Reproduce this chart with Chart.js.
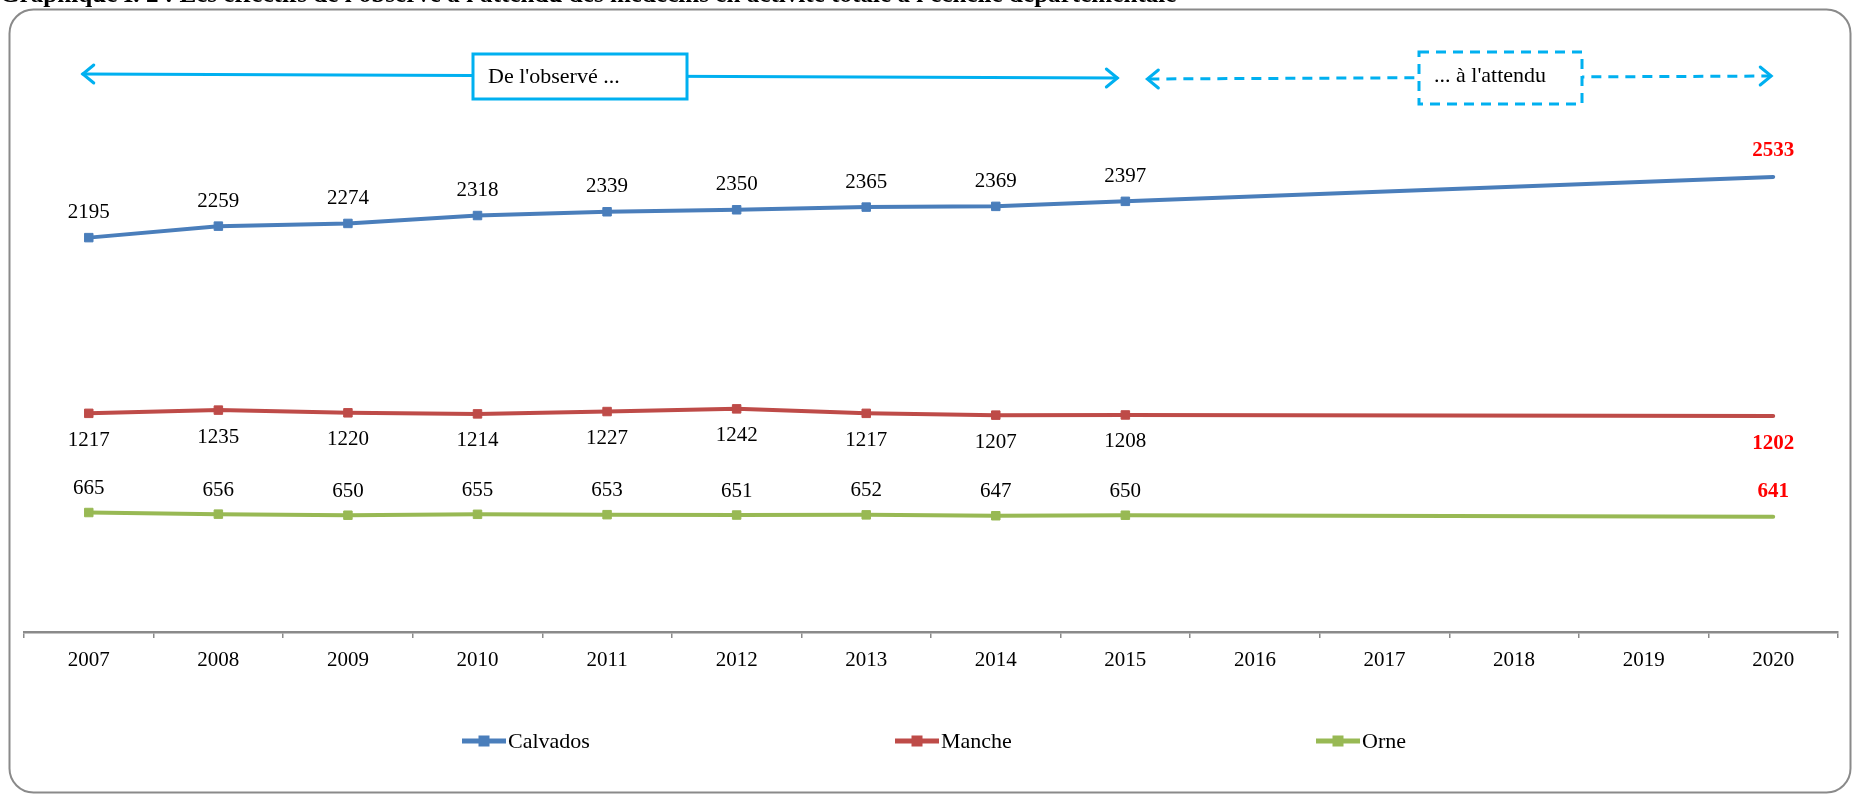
<!DOCTYPE html>
<html>
<head>
<meta charset="utf-8">
<script src="https://cdn.jsdelivr.net/npm/chart.js@4.4.1/dist/chart.umd.min.js"></script>
<style>
  html, body { margin: 0; padding: 0; background: #fff; overflow: hidden; }
  #wrap { position: relative; width: 1854px; height: 794px; }
  canvas { display: block; }
</style>
</head>
<body>
<div id="wrap"><canvas id="c" width="1854" height="794"></canvas></div>
<script>
// ---- Data ----
const years = ['2007','2008','2009','2010','2011','2012','2013','2014','2015','2016','2017','2018','2019','2020'];
const calvados = [2195, 2259, 2274, 2318, 2339, 2350, 2365, 2369, 2397, null, null, null, null, 2533];
const manche   = [1217, 1235, 1220, 1214, 1227, 1242, 1217, 1207, 1208, null, null, null, null, 1202];
const orne     = [665, 656, 650, 655, 653, 651, 652, 647, 650, null, null, null, null, 641];
const seriesNames = ['Calvados', 'Manche', 'Orne'];
const titleText = "Graphique I. 2 : Les effectifs de l'observé à l'attendu des médecins en activité totale à l'échelle départementale";
const observedText = "De l'observé ...";
const expectedText = "... à l'attendu";

const colors = ['#4A7EBB', '#BE4B48', '#98B954'];
const SERIF = '"Liberation Serif", "DejaVu Serif", serif';
const lastObserved = 8;
const projIndex = 13;

function mkDataset(label, data, color) {
  return {
    label, data,
    borderColor: color, backgroundColor: color,
    borderWidth: 4, borderCapStyle: 'round', borderJoinStyle: 'round',
    pointStyle: 'rect',
    pointRadius: ctx => ctx.dataIndex <= lastObserved ? 6 : 0,
    pointHoverRadius: ctx => ctx.dataIndex <= lastObserved ? 6 : 0,
    pointBorderWidth: 1,
    pointBorderColor: color, pointBackgroundColor: color,
    spanGaps: true, tension: 0
  };
}

// label offsets (above negative, below positive)
const labelOffsets = [-25, 27, -24];

const decorPlugin = {
  id: 'decor',
  beforeDraw(chart) {
    const ctx = chart.ctx;
    ctx.save();
    ctx.fillStyle = '#fff';
    ctx.fillRect(0, 0, chart.width, chart.height);
    // title (cut at top)
    ctx.fillStyle = '#000';
    let fs = 22;
    ctx.font = 'bold ' + fs + 'px ' + SERIF;
    const w = ctx.measureText(titleText).width;
    fs = fs * 1177 / w;
    ctx.font = 'bold ' + fs.toFixed(2) + 'px ' + SERIF;
    ctx.textBaseline = 'alphabetic';
    ctx.textAlign = 'left';
    ctx.fillText(titleText, 0, 2);
    // rounded border
    ctx.strokeStyle = '#8a8a8a';
    ctx.lineWidth = 2;
    ctx.beginPath();
    ctx.roundRect(9.5, 9.5, 1841, 783, 24);
    ctx.fillStyle = '#fff';
    ctx.fill();
    ctx.stroke();
    ctx.restore();
  },
  afterDraw(chart) {
    const ctx = chart.ctx;
    const xs = chart.scales.x;
    ctx.save();
    // ---- arrows ----
    const blue = '#00B0F0';
    ctx.strokeStyle = blue;
    ctx.lineWidth = 3;
    ctx.lineCap = 'round';
    function chevron(x, y, dir) {
      ctx.save();
      ctx.setLineDash([]);
      ctx.beginPath();
      ctx.moveTo(x - dir * 11, y - 9);
      ctx.lineTo(x, y);
      ctx.lineTo(x - dir * 11, y + 9);
      ctx.stroke();
      ctx.restore();
    }
    const xStart = xs.getPixelForValue(0) - 6;
    const xMid = xs.getPixelForValue(lastObserved) - 8;
    const xMid2 = xs.getPixelForValue(lastObserved) + 22;
    const xEnd = xs.getPixelForValue(projIndex) - 2;
    // solid arrow
    ctx.beginPath();
    ctx.moveTo(xStart, 74);
    ctx.lineTo(xMid, 78);
    ctx.stroke();
    chevron(xStart, 74, -1);
    chevron(xMid, 78, 1);
    // dashed arrow
    ctx.lineCap = 'butt';
    ctx.setLineDash([10, 7]);
    ctx.beginPath();
    ctx.moveTo(xMid2 + 2, 79);
    ctx.lineTo(xEnd, 76);
    ctx.stroke();
    ctx.lineCap = 'round';
    chevron(xMid2, 79, -1);
    chevron(xEnd, 76, 1);
    // solid box
    ctx.setLineDash([]);
    ctx.fillStyle = '#fff';
    ctx.fillRect(473, 54, 214, 45);
    ctx.strokeRect(473, 54, 214, 45);
    // dashed box
    ctx.fillRect(1419, 52, 163, 52);
    ctx.setLineDash([10, 7]);
    ctx.lineCap = 'butt';
    ctx.strokeRect(1419, 52, 163, 52);
    ctx.setLineDash([]);
    ctx.fillStyle = '#000';
    ctx.font = '22px ' + SERIF;
    ctx.textBaseline = 'middle';
    ctx.textAlign = 'left';
    ctx.fillText(observedText, 488, 77);
    ctx.fillText(expectedText, 1434, 76);

    // ---- data labels ----
    chart.data.datasets.forEach((ds, di) => {
      const meta = chart.getDatasetMeta(di);
      ds.data.forEach((v, i) => {
        if (v === null) return;
        const p = meta.data[i];
        const proj = i === projIndex;
        ctx.font = (proj ? 'bold ' : '') + '21px ' + SERIF;
        ctx.fillStyle = proj ? '#FF0000' : '#000';
        ctx.textAlign = 'center';
        ctx.textBaseline = 'middle';
        let off = labelOffsets[di];
        if (proj) off += (off > 0 ? 1 : -1);
        ctx.fillText(String(v), p.x, p.y + off);
      });
    });

    // ---- legend ----
    const legX = [462, 895, 1316];
    const legY = 741;
    chart.data.datasets.forEach((ds, di) => {
      const x0 = legX[di];
      ctx.strokeStyle = ds.borderColor;
      ctx.lineWidth = 5;
      ctx.lineCap = 'butt';
      ctx.beginPath();
      ctx.moveTo(x0, legY);
      ctx.lineTo(x0 + 44, legY);
      ctx.stroke();
      ctx.fillStyle = ds.borderColor;
      ctx.fillRect(x0 + 22 - 5.5, legY - 5.5, 11, 11);
      ctx.fillStyle = '#000';
      ctx.font = '22px ' + SERIF;
      ctx.textAlign = 'left';
      ctx.textBaseline = 'middle';
      ctx.fillText(ds.label, x0 + 46, legY + 1);
    });
    ctx.restore();
  }
};

new Chart(document.getElementById('c'), {
  type: 'line',
  data: {
    labels: years,
    datasets: [
      mkDataset(seriesNames[0], calvados, colors[0]),
      mkDataset(seriesNames[1], manche, colors[1]),
      mkDataset(seriesNames[2], orne, colors[2])
    ]
  },
  options: {
    responsive: false,
    animation: false,
    events: [],
    layout: { padding: { left: 24, right: 16, top: 93, bottom: 62 } },
    plugins: { legend: { display: false }, tooltip: { enabled: false }, title: { display: false } },
    scales: {
      x: {
        offset: true,
        grid: { offset: true, display: true, drawOnChartArea: false, drawTicks: true, tickLength: 6, color: '#8a8a8a', lineWidth: 1.5 },
        border: { display: true, color: '#8a8a8a', width: 2.5 },
        ticks: { color: '#000', font: { family: SERIF, size: 21 }, padding: 10, maxRotation: 0, autoSkip: false },
        afterFit: s => { s.height = 100; }
      },
      y: {
        display: false,
        min: 0, max: 3000
      }
    }
  },
  plugins: [decorPlugin]
});
</script>
</body>
</html>
